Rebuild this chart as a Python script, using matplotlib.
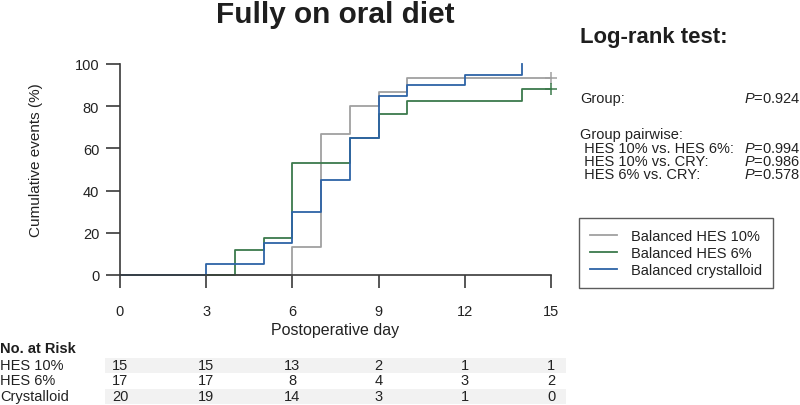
import numpy as np
import matplotlib
matplotlib.use("Agg")
import matplotlib.pyplot as plt
import matplotlib.patches as patches
from matplotlib.transforms import blended_transform_factory

plt.rcParams['font.family'] = ['Liberation Sans', 'DejaVu Sans']
plt.rcParams['mathtext.fontset'] = 'custom'
plt.rcParams['mathtext.rm'] = 'Liberation Sans'
plt.rcParams['mathtext.it'] = 'Liberation Sans:italic'

# cumulative events (%) by postoperative day, step changes
days_hes10 = [0, 6, 7, 8, 9, 10, 15]
cum_hes10 = [0, 13.3, 66.7, 80.0, 86.7, 93.3, 93.3]
days_hes6 = [0, 4, 5, 6, 8, 9, 10, 14, 15]
cum_hes6 = [0, 11.8, 17.6, 52.9, 64.7, 76.5, 82.4, 88.2, 88.2]
days_cry = [0, 3, 5, 6, 7, 8, 9, 10, 12, 14]
cum_cry = [0, 5, 15, 30, 45, 65, 85, 90, 95, 100]

group_labels = ['Balanced HES 10%', 'Balanced HES 6%', 'Balanced crystalloid']
risk_rows = ['HES 10%', 'HES 6%', 'Crystalloid']
risk_days = [0, 3, 6, 9, 12, 15]
risk_hes10 = [15, 15, 13, 2, 1, 1]
risk_hes6 = [17, 17, 8, 4, 3, 2]
risk_cry = [20, 19, 14, 3, 1, 0]

test_names = ['Group:', 'Group pairwise:', ' HES 10% vs. HES 6%:', ' HES 10% vs. CRY:', ' HES 6% vs. CRY:']
test_p = ['0.924', None, '0.994', '0.986', '0.578']

colors = ['#a0a0a0', '#3c7a4c', '#2d63a6']
W, H = 800, 406


def fx(px):
    return px / W


def fy(py):
    return 1 - py / H


fig = plt.figure(figsize=(8, 4.06), dpi=100)
ax = fig.add_axes([fx(120), fy(276), fx(551) - fx(120), fy(65) - fy(276)])

for d, c, col, lab in zip([days_hes10, days_hes6, days_cry],
                          [cum_hes10, cum_hes6, cum_cry], colors, group_labels):
    ax.step(d, c, where='post', color=col, lw=1.3, label=lab, clip_on=False, zorder=2)

# censor marks at end of follow-up
ax.plot([days_hes10[-1]], [cum_hes10[-1]], marker='+', ms=8, mew=1.1, color=colors[0], clip_on=False)
ax.plot([days_hes6[-1]], [cum_hes6[-1]], marker='+', ms=8, mew=1.1, color=colors[1], clip_on=False)

ax.set_xlim(0, 15)
ax.set_ylim(0, 100)
ax.set_xticks(risk_days)
ax.set_yticks([0, 20, 40, 60, 80, 100])
for s in ['top', 'right']:
    ax.spines[s].set_visible(False)
for s in ['left', 'bottom']:
    ax.spines[s].set_color('#3a3a3a')
    ax.spines[s].set_linewidth(1.2)
ax.tick_params(axis='x', length=9, width=1.2, pad=12, labelsize=10.5, color='#3a3a3a', labelcolor='#222222')
ax.tick_params(axis='y', length=10, width=1.2, pad=5, labelsize=10.5, color='#3a3a3a', labelcolor='#222222')

ax.set_xlabel('Postoperative day', fontsize=11.5, color='#222222', va='center')
ax.xaxis.set_label_coords(0.5, (276 - 331) / 211)
ax.set_ylabel('Cumulative events (%)', fontsize=11, color='#222222', va='center')
ax.yaxis.set_label_coords((36 - 120) / 431, 0.55)

fig.text(fx(335), fy(15), 'Fully on oral diet', fontsize=21.4, fontweight='bold',
         ha='center', va='center', color='#1e1e1e')

# log-rank results
fig.text(fx(580), fy(37), 'Log-rank test:', fontsize=15.9, fontweight='bold',
         ha='left', va='center', color='#1e1e1e')
test_y = [99, 135, 149, 162, 175]
for name, p, y in zip(test_names, test_p, test_y):
    fig.text(fx(580), fy(y), name, fontsize=10.5, ha='left', va='center', color='#222222')
    if p is not None:
        fig.text(fx(744), fy(y), r'$P$=' + p, fontsize=10.5, ha='left', va='center', color='#222222')

leg = ax.legend(loc='upper left', bbox_to_anchor=(fx(579), fy(219)), bbox_transform=fig.transFigure,
                fontsize=10.5, frameon=True, fancybox=False, borderaxespad=0, borderpad=0.75,
                handlelength=1.85, handletextpad=0.95, labelspacing=0.22)
leg.get_frame().set_edgecolor('#333333')
leg.get_frame().set_linewidth(1.0)
for t in leg.get_texts():
    t.set_color('#222222')

# number at risk table
tr = blended_transform_factory(ax.transData, fig.transFigure)
fig.text(fx(0), fy(349), 'No. at Risk', fontsize=10.5, fontweight='bold', ha='left', va='center', color='#1e1e1e')
row_y = [366, 381, 397]
for i, (row, vals, y) in enumerate(zip(risk_rows, [risk_hes10, risk_hes6, risk_cry], row_y)):
    if i != 1:
        band = patches.Rectangle((fx(105), fy(y + 8)), fx(566) - fx(105), 15.5 / H,
                                 transform=fig.transFigure, facecolor='#f2f2f2', edgecolor='none', zorder=0)
        fig.patches.append(band)
    fig.text(fx(0), fy(y), row, fontsize=10.5, ha='left', va='center', color='#222222')
    for d, v in zip(risk_days, vals):
        fig.text(d, fy(y), str(v), transform=tr, fontsize=10.5, ha='center', va='center', color='#222222')

fig.savefig('out.png', dpi=100)
